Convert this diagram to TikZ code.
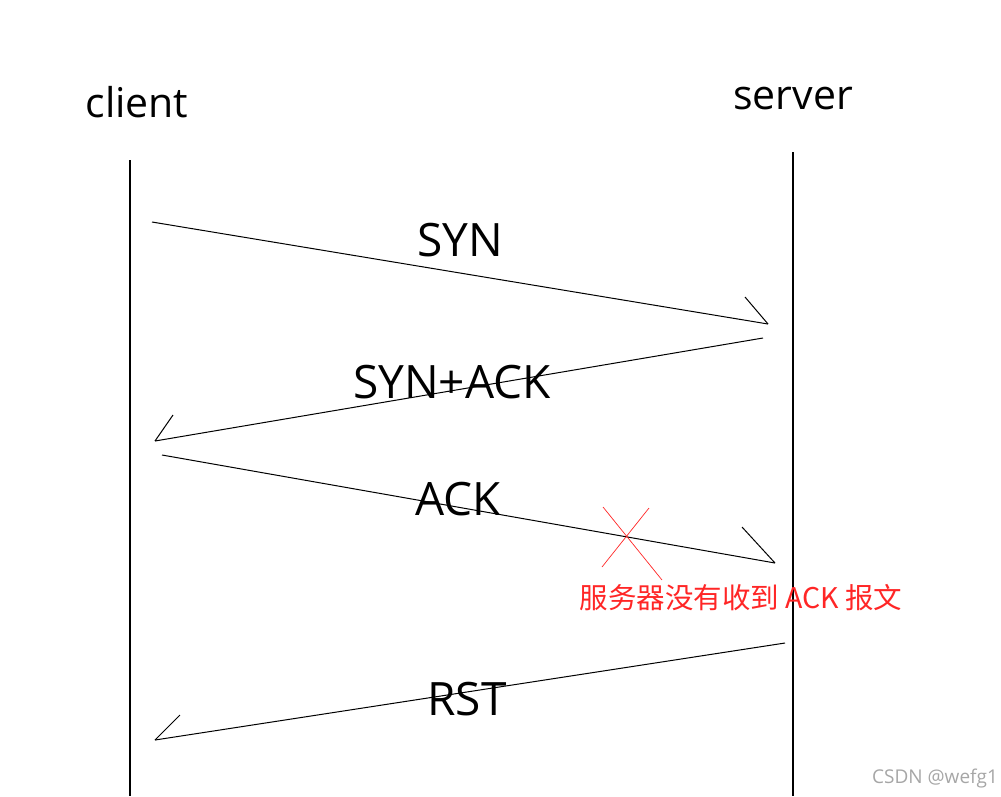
\documentclass[tikz,border=0pt]{standalone}
\usepackage{fontspec}
\setmainfont{Open Sans}
\newfontfamily\cjk{Noto Sans CJK SC}
\begin{document}
\begin{tikzpicture}[x=1pt,y=-1pt,
  life/.style={line width=1.2pt,black},
  msg/.style={line width=1pt,black},
  barb/.style={line width=1pt,black},
  lbl/.style={font=\fontsize{41}{45}\selectfont,inner sep=0pt},
  mlbl/.style={font=\fontsize{46}{50}\selectfont,inner sep=0pt},
  cross/.style={line width=0.7pt,red!85!white}]
\useasboundingbox (0,0) rectangle (1001,796);
% lifelines
\coordinate (ct) at (130,160); \coordinate (cb) at (130,796);
\coordinate (st) at (793,152); \coordinate (sb) at (793,796);
\draw[life] (ct) -- (cb);
\draw[life] (st) -- (sb);
\node[lbl] (client) at (137,102) {client};
\node[lbl] (server) at (793,99) {server};
% SYN
\coordinate (s1) at (152,222); \coordinate (e1) at (768,324); \coordinate (b1) at (745,297);
\draw[msg] (s1) -- (e1); \draw[barb] (b1) -- (e1);
\node[mlbl] (syn) at (460,240) {SYN};
% SYN+ACK
\coordinate (s2) at (763,338); \coordinate (e2) at (155,441); \coordinate (b2) at (173,415);
\draw[msg] (s2) -- (e2); \draw[barb] (b2) -- (e2);
\node[mlbl] (synack) at (452,382) {SYN+ACK};
% ACK
\coordinate (s3) at (162,455); \coordinate (e3) at (775,563); \coordinate (b3) at (742,527);
\draw[msg] (s3) -- (e3); \draw[barb] (b3) -- (e3);
\node[mlbl] (ack) at (458,499) {ACK};
% red cross
\coordinate (x1) at (603,507); \coordinate (x2) at (662,580);
\coordinate (x3) at (649,508); \coordinate (x4) at (602,567);
\draw[cross] (x1) -- (x2);
\draw[cross] (x3) -- (x4);
\node[inner sep=0pt,text=red!85!white,font=\cjk\fontsize{28.5}{31}\selectfont] (lost) at (741,598) {服务器没有收到 ACK 报文};
% RST
\coordinate (s4) at (785,643); \coordinate (e4) at (155,740); \coordinate (b4) at (180,715);
\draw[msg] (s4) -- (e4); \draw[barb] (b4) -- (e4);
\node[mlbl] (rst) at (467,699) {RST};
% watermark
\node[inner sep=0pt,text=black!35,font=\fontsize{19}{21}\selectfont] (wm) at (935,778) {CSDN @wefg1};
\end{tikzpicture}
\end{document}
